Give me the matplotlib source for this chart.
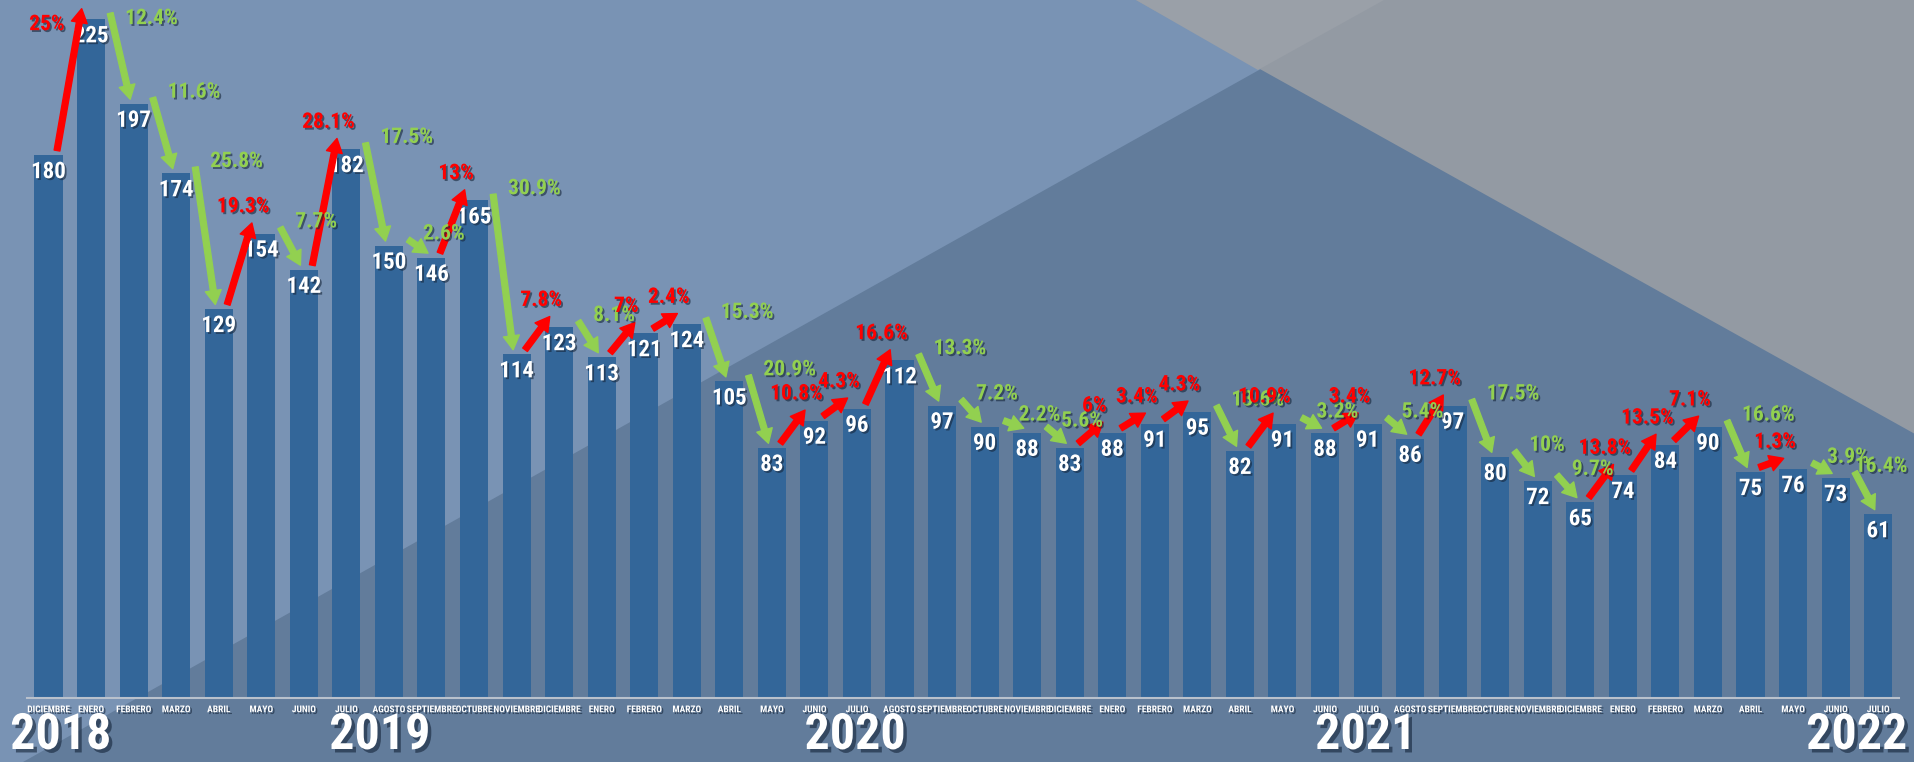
import matplotlib
matplotlib.use('Agg')
import matplotlib.pyplot as plt
import matplotlib.patheffects as pe
import matplotlib.transforms as mtransforms
from matplotlib.patches import Polygon

# ---------------- data ----------------
months = ['DICIEMBRE', 'ENERO', 'FEBRERO', 'MARZO', 'ABRIL', 'MAYO', 'JUNIO', 'JULIO',
          'AGOSTO', 'SEPTIEMBRE', 'OCTUBRE', 'NOVIEMBRE', 'DICIEMBRE',
          'ENERO', 'FEBRERO', 'MARZO', 'ABRIL', 'MAYO', 'JUNIO', 'JULIO',
          'AGOSTO', 'SEPTIEMBRE', 'OCTUBRE', 'NOVIEMBRE', 'DICIEMBRE',
          'ENERO', 'FEBRERO', 'MARZO', 'ABRIL', 'MAYO', 'JUNIO', 'JULIO',
          'AGOSTO', 'SEPTIEMBRE', 'OCTUBRE', 'NOVIEMBRE', 'DICIEMBRE',
          'ENERO', 'FEBRERO', 'MARZO', 'ABRIL', 'MAYO', 'JUNIO', 'JULIO']
values = [180, 225, 197, 174, 129, 154, 142, 182, 150, 146, 165, 114, 123,
          113, 121, 124, 105, 83, 92, 96, 112, 97, 90, 88, 83,
          88, 91, 95, 82, 91, 88, 91, 86, 97, 80, 72, 65,
          74, 84, 90, 75, 76, 73, 61]
pct_labels = ['25%', '12.4%', '11.6%', '25.8%', '19.3%', '7.7%', '28.1%', '17.5%',
              '2.6%', '13%', '30.9%', '7.8%', '8.1%', '7%', '2.4%', '15.3%',
              '20.9%', '10.8%', '4.3%', '16.6%', '13.3%', '7.2%', '2.2%', '5.6%',
              '6%', '3.4%', '4.3%', '13.6%', '10.9%', '3.2%', '3.4%', '5.4%',
              '12.7%', '17.5%', '10%', '9.7%', '13.8%', '13.5%', '7.1%', '16.6%',
              '1.3%', '3.9%', '16.4%']
years = ['2018', '2019', '2020', '2021', '2022']
year_anchor = [0.29, 7.79, 18.96, 30.96, 42.5]   # bar-index position of year captions

# ---------------- style ----------------
W, H = 1915, 762
FONT = ['Roboto Condensed', 'Saira Condensed', 'DejaVu Sans']
BG_LIGHT = '#7993b4'
BG_DARK = '#627c9b'
GREY_LIGHT = '#9aa0a8'
GREY_DARK = '#939aa3'
BAR = '#336699'
UP = '#ff0000'
DOWN = '#92d050'

fig = plt.figure(figsize=(W / 100, H / 100), dpi=100, facecolor=BG_LIGHT)


def px(pts):
    return [(x / W, 1 - y / H) for x, y in pts]


for pts, col in [([(23, 762), (1384, 0), (W, 0), (W, H)], BG_DARK),
                 ([(1136, 0), (W, 0), (W, 434)], GREY_DARK),
                 ([(1136, 0), (1384, 0), (1258, 70)], GREY_LIGHT)]:
    fig.add_artist(Polygon(px(pts), closed=True, transform=fig.transFigure,
                           facecolor=col, edgecolor='none', zorder=-5))

pitch = 42.55
x0px = 48.5
left_px = x0px - 0.5 * pitch
right_px = x0px + 43.5 * pitch
axis_y = 698.3
ax = fig.add_axes([left_px / W, (H - axis_y) / H, (right_px - left_px) / W, axis_y / H])
ax.set_facecolor('none')
ax.set_xlim(-0.5, 43.5)
ytop = axis_y / 3.018
ax.set_ylim(0, ytop)
for s in ['top', 'right', 'left']:
    ax.spines[s].set_visible(False)
ax.spines['bottom'].set_color('#b9c1cc')
ax.spines['bottom'].set_linewidth(1.5)
ax.set_yticks([])

n = len(values)
xs = list(range(n))
ax.bar(xs, values, width=0.66, color=BAR, zorder=2)

shadow = [pe.withSimplePatchShadow(offset=(1.3, -1.3), shadow_rgbFace='#15253a', alpha=0.6)]

ax.set_xticks(xs)
ax.set_xticklabels(months, fontsize=6.8, fontweight='bold', color='white', family=FONT)
for t in ax.get_xticklabels():
    t.set_path_effects(shadow)
ax.tick_params(axis='x', length=0, pad=5)

# value labels
for i, v in enumerate(values):
    ax.text(i, v - 5.5, str(v), ha='center', va='center', fontsize=16.5, fontweight='bold',
            color='white', family=FONT, zorder=3, path_effects=shadow)

# arrows and percentage labels
for i in range(n - 1):
    a, b = values[i], values[i + 1]
    if b > a:
        start = (i + 0.2, a + 1.5)
        end = (i + 0.78, b + 3.5)
        col = UP
    else:
        start = (i + 0.45, a + 2)
        end = (i + 0.92, b + 1.5)
        col = DOWN
    ax.annotate('', xy=end, xytext=start, zorder=4,
                arrowprops=dict(arrowstyle='simple,head_length=1.0,head_width=1.15,tail_width=0.42',
                                mutation_scale=10, color=col, shrinkA=0, shrinkB=0))
    if b > a:
        ly = end[1] + 5.5
        if ly > ytop - 8:
            ax.text(end[0] - 0.4, ytop - 8, pct_labels[i], ha='right', va='center',
                    fontsize=15.5, fontweight='bold', color=col, family=FONT, zorder=5,
                    path_effects=shadow)
        else:
            ax.text(end[0] - 0.2, ly, pct_labels[i], ha='center', va='center',
                    fontsize=15.5, fontweight='bold', color=col, family=FONT, zorder=5,
                    path_effects=shadow)
    else:
        ax.text(min(i + 0.8, n - 1.55), min(a + 4, ytop - 6), pct_labels[i], ha='left',
                va='center', fontsize=15.5, fontweight='bold', color=col, family=FONT,
                zorder=5, path_effects=shadow)

# year captions
ytr = mtransforms.blended_transform_factory(ax.transData, fig.transFigure)
for yr, pos in zip(years, year_anchor):
    ax.text(pos, 1 - 735.5 / H, yr, transform=ytr, ha='center', va='center',
            fontsize=36, fontweight='bold', color='white', family=FONT, clip_on=False,
            path_effects=[pe.withSimplePatchShadow(offset=(2.5, -2.5), shadow_rgbFace='#15253a',
                                                   alpha=0.6)])

fig.savefig('out.png', dpi=100, facecolor=fig.get_facecolor())
